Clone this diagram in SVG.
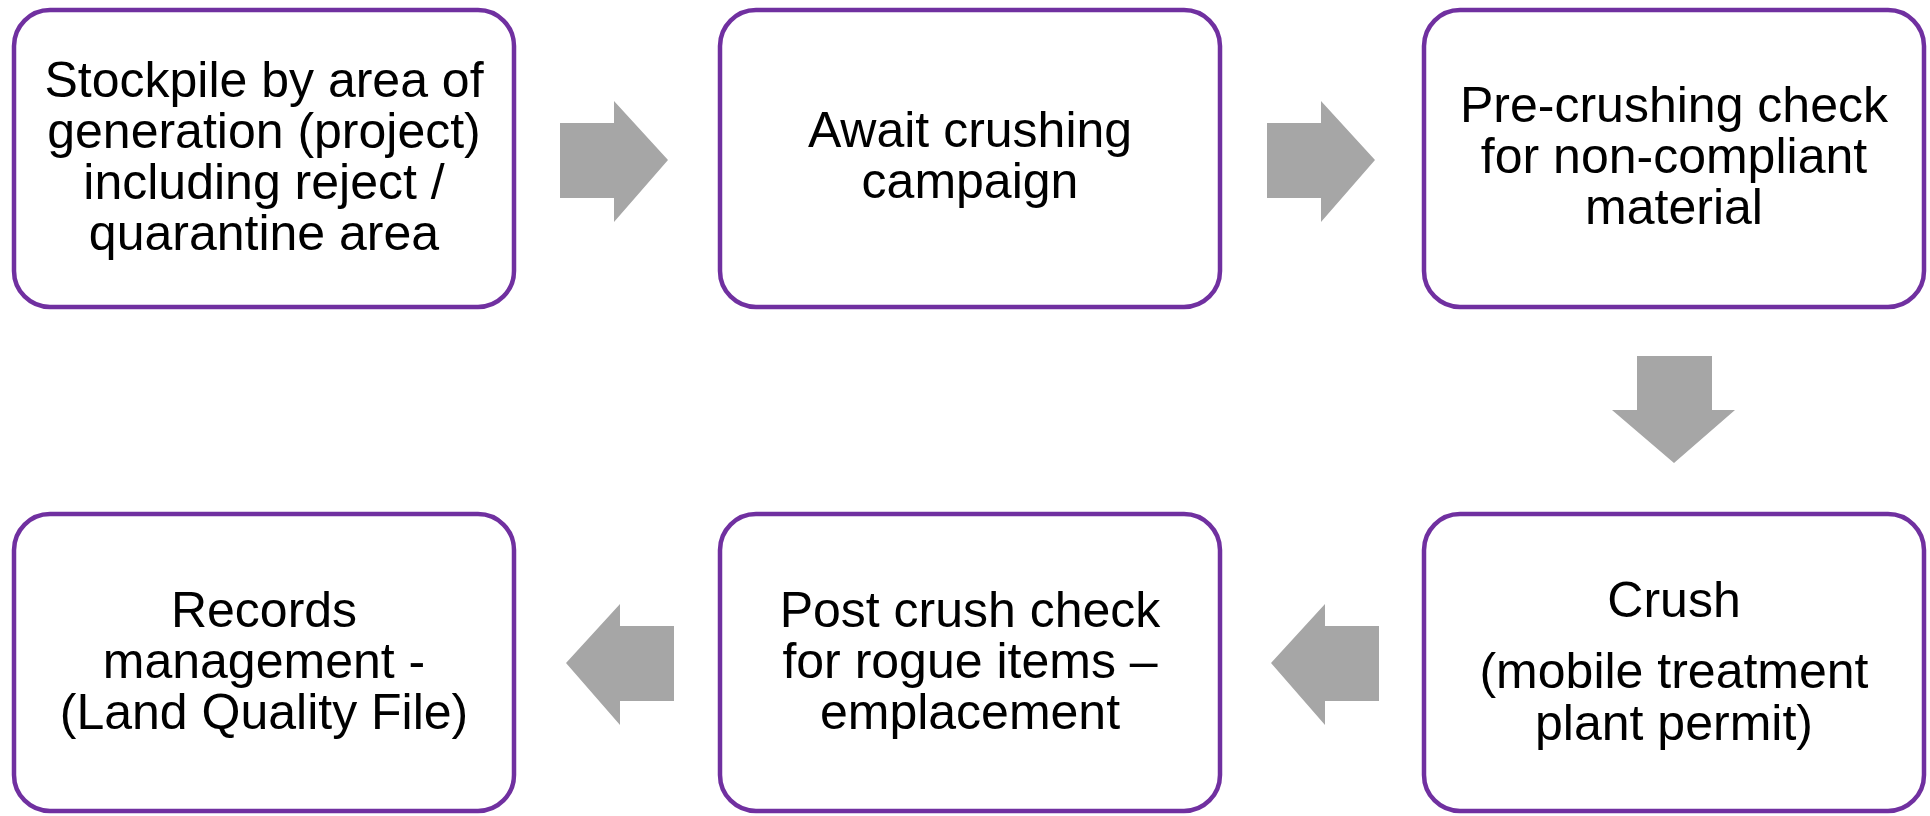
<svg xmlns="http://www.w3.org/2000/svg" width="1930" height="816" viewBox="0 0 1930 816">
<style>
.box{fill:#fff;stroke:#7030A0;stroke-width:4.5}
.arr{fill:#A6A6A6}
text{font-family:"Liberation Sans",Arial,sans-serif;font-size:50px;fill:#000;text-anchor:middle}
</style>
<rect width="1930" height="816" fill="#fff"/>
<g id="connectors">
<polygon class="arr" points="560,123 614,123 614,101 668,160 614,222 614,198 560,198"/>
<polygon class="arr" points="1267,123 1321,123 1321,101 1375,160 1321,222 1321,198 1267,198"/>
<polygon class="arr" points="1637,356 1712,356 1712,410 1735,410 1674,463 1612,410 1637,410"/>
<polygon class="arr" points="1379,626 1325,626 1325,604 1271,663 1325,725 1325,701 1379,701"/>
<polygon class="arr" points="674,626 620,626 620,604 566,663 620,725 620,701 674,701"/>
</g>
<g id="n1">
<rect class="box" x="14" y="10" width="500" height="297" rx="36"/>
<text x="264" y="97">Stockpile by area of</text>
<text x="264" y="148">generation (project)</text>
<text x="264" y="199">including reject /</text>
<text x="264" y="250">quarantine area</text>
</g>
<g id="n2">
<rect class="box" x="720" y="10" width="500" height="297" rx="36"/>
<text x="970" y="147">Await crushing</text>
<text x="970" y="198">campaign</text>
</g>
<g id="n3">
<rect class="box" x="1424" y="10" width="500" height="297" rx="36"/>
<text x="1674" y="122">Pre-crushing check</text>
<text x="1674" y="173">for non-compliant</text>
<text x="1674" y="224">material</text>
</g>
<g id="n4">
<rect class="box" x="1424" y="514" width="500" height="297" rx="36"/>
<text x="1674" y="617">Crush</text>
<text x="1674" y="688">(mobile treatment</text>
<text x="1674" y="740">plant permit)</text>
</g>
<g id="n5">
<rect class="box" x="720" y="514" width="500" height="297" rx="36"/>
<text x="970" y="627">Post crush check</text>
<text x="970" y="678">for rogue items –</text>
<text x="970" y="729">emplacement</text>
</g>
<g id="n6">
<rect class="box" x="14" y="514" width="500" height="297" rx="36"/>
<text x="264" y="627">Records</text>
<text x="264" y="678">management -</text>
<text x="264" y="729">(Land Quality File)</text>
</g>
</svg>
